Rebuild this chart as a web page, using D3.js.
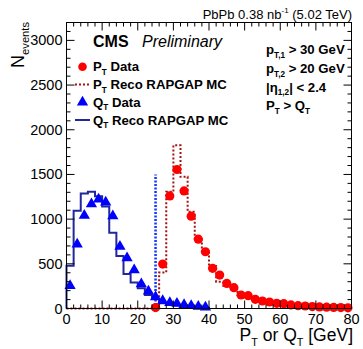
<!DOCTYPE html>
<html>
<head>
<meta charset="utf-8">
<script src="https://cdn.jsdelivr.net/npm/d3@7"></script>
<style>
  body { margin: 0; background: #fff; }
  svg { display: block; font-family: "Liberation Sans", Arial, sans-serif; }
</style>
</head>
<body>
<svg id="chart" width="363" height="349"></svg>
<script>
// P_T data (red points), bin centres in GeV
var ptDataX = [25, 27, 29, 31, 33, 35, 37, 39, 41, 43, 45, 47, 49, 51, 53, 55, 57, 59, 61, 63, 65, 67, 69, 71, 73, 75, 77, 79];
var ptDataY = [10, 497, 1260, 1555, 1316, 1033, 776, 635, 449, 374, 281, 233, 151, 143, 103, 84, 73, 58, 54, 40, 32, 28, 22, 18, 15, 12, 10, 8];

// Q_T data (blue triangles)
var qtDataX = [1, 3, 5, 7, 9, 11, 13, 15, 17, 19, 21, 23, 25, 27, 29, 31, 33, 35, 37, 39];
var qtDataY = [255, 720, 1040, 1170, 1223, 1188, 1035, 694, 565, 430, 274, 192, 128, 86, 65, 55, 42, 30, 22, 15];

// MC histograms, bin edges (2 GeV wide)
var mcEdges = [0, 2, 4, 6, 8, 10, 12, 14, 16, 18, 20, 22, 24, 26, 28, 30, 32, 34, 36, 38,
               40, 42, 44, 46, 48, 50, 52, 54, 56, 58, 60, 62, 64, 66, 68, 70, 72, 74, 76, 78, 80];
var ptMc = [0, 0, 0, 0, 0, 0, 0, 0, 0, 0, 0, 0, 0, 404, 1305, 1827, 1473, 1082, 790, 640,
            475, 300, 255, 210, 150, 125, 100, 85, 70, 58, 50, 40, 32, 27, 22, 18, 15, 12, 10, 8];
var qtMc = [478, 1093, 1287, 1305, 1255, 1140, 847, 587, 385, 290, 226, 150, 105, 60, 45, 35, 25, 18, 12, 8];

var cutX = 25, cutY = 1500;

var xTicks = [0, 10, 20, 30, 40, 50, 60, 70, 80];
var yTicks = [0, 500, 1000, 1500, 2000, 2500, 3000];

var svg = d3.select("#chart");
var fL = 66.5, fR = 351.5, fT = 22.5, fB = 308.5;
var x = d3.scaleLinear().domain([0, 80]).range([fL, fR]);
var y = d3.scaleLinear().domain([0, 3200]).range([fB, fT]);

// step histogram outline
function stepPath(vals) {
  var d = "M" + x(0) + "," + y(0);
  vals.forEach(function (v, i) {
    d += "L" + x(mcEdges[i]) + "," + y(v) + "L" + x(mcEdges[i + 1]) + "," + y(v);
  });
  d += "L" + x(mcEdges[vals.length]) + "," + y(0);
  return d;
}

svg.append("path").attr("d", stepPath(ptMc))
  .attr("fill", "none").attr("stroke", "#a31515").attr("stroke-width", 2)
  .attr("stroke-dasharray", "2,2");

svg.append("path").attr("d", stepPath(qtMc))
  .attr("fill", "none").attr("stroke", "#20289a").attr("stroke-width", 2);

svg.append("line")
  .attr("x1", x(cutX)).attr("x2", x(cutX)).attr("y1", y(0)).attr("y2", y(cutY))
  .attr("stroke", "#1a3cff").attr("stroke-width", 2.6).attr("stroke-dasharray", "2,1.5");

var tri = d3.symbol().type(d3.symbolTriangle).size(55);
svg.append("g").selectAll("path").data(qtDataX).enter().append("path")
  .attr("d", tri)
  .attr("transform", function (d, i) { return "translate(" + x(d) + "," + y(qtDataY[i]) + ")"; })
  .attr("fill", "#0000ff");

svg.append("g").selectAll("circle").data(ptDataX).enter().append("circle")
  .attr("cx", function (d) { return x(d); })
  .attr("cy", function (d, i) { return y(ptDataY[i]); })
  .attr("r", 4.6).attr("fill", "#ff0000");

// frame and ticks (ROOT style, ticks inside on all sides)
var ax = svg.append("g").attr("stroke", "#000").attr("stroke-width", 1);
ax.append("rect").attr("x", fL).attr("y", fT).attr("width", fR - fL).attr("height", fB - fT)
  .attr("fill", "none");
var xMinor = d3.range(0, 81, 2);
var yMinor = d3.range(0, 3201, 100);
xMinor.forEach(function (v) {
  var len = v % 10 === 0 ? 8 : 4;
  ax.append("line").attr("x1", x(v)).attr("x2", x(v)).attr("y1", fB).attr("y2", fB - len);
  ax.append("line").attr("x1", x(v)).attr("x2", x(v)).attr("y1", fT).attr("y2", fT + len);
});
yMinor.forEach(function (v) {
  var len = v % 500 === 0 ? 8 : 4;
  ax.append("line").attr("x1", fL).attr("x2", fL + len).attr("y1", y(v)).attr("y2", y(v));
  ax.append("line").attr("x1", fR).attr("x2", fR - len).attr("y1", y(v)).attr("y2", y(v));
});

svg.append("g").selectAll("text").data(xTicks).enter().append("text")
  .attr("x", function (d) { return x(d); }).attr("y", 323.5)
  .attr("text-anchor", "middle").attr("font-size", 14.5).text(function (d) { return d; });
svg.append("g").selectAll("text").data(yTicks).enter().append("text")
  .attr("x", 62.5).attr("y", function (d) { return y(d) + 5; })
  .attr("text-anchor", "end").attr("font-size", 14.5).text(function (d) { return d; });

// text with sub/superscripts: parts = [[text, mode]]
function rich(g, parts, size) {
  var t = g.append("text").attr("font-size", size);
  parts.forEach(function (p) {
    var s = t.append("tspan").text(p[0]);
    if (p[1] === "sub") s.attr("font-size", size * 0.62).attr("dy", size * 0.28);
    else if (p[1] === "sup") s.attr("font-size", size * 0.62).attr("dy", -size * 0.42);
    else if (p[1] === "back") s.attr("dy", -size * 0.28);
    else if (p[1] === "down") s.attr("dy", size * 0.42);
  });
  return t;
}

rich(svg, [["PbPb 0.38 nb"], ["-1", "sup"], [" (5.02 TeV)", "down"]], 13)
  .attr("x", 352).attr("y", 18.5).attr("text-anchor", "end");

rich(svg, [["P"], ["T", "sub"], [" or Q", "back"], ["T", "sub"], [" [GeV]", "back"]], 17.5)
  .attr("x", 353).attr("y", 341).attr("text-anchor", "end");

rich(svg, [["N"], ["events", "sub"]], 18)
  .attr("text-anchor", "end")
  .attr("transform", "translate(24,22) rotate(-90)");

svg.append("text").attr("x", 93).attr("y", 47).attr("font-size", 16).attr("font-weight", "bold").text("CMS");
svg.append("text").attr("x", 142).attr("y", 47).attr("font-size", 16).attr("font-style", "italic").text("Preliminary");

// legend
var lg = svg.append("g").attr("font-weight", "bold");
var rows = [66.7, 84.5, 102.2, 120];
lg.append("circle").attr("cx", 82.5).attr("cy", rows[0]).attr("r", 4.3).attr("fill", "#ff0000");
lg.append("line").attr("x1", 75).attr("x2", 90).attr("y1", rows[1]).attr("y2", rows[1])
  .attr("stroke", "#a31515").attr("stroke-width", 2).attr("stroke-dasharray", "2,2");
lg.append("path").attr("d", tri).attr("transform", "translate(82.5," + rows[2] + ")").attr("fill", "#0000ff");
lg.append("line").attr("x1", 75).attr("x2", 90).attr("y1", rows[3]).attr("y2", rows[3])
  .attr("stroke", "#20289a").attr("stroke-width", 2);
var labels = [[["P"], ["T", "sub"], [" Data", "back"]],
              [["P"], ["T", "sub"], [" Reco RAPGAP MC", "back"]],
              [["Q"], ["T", "sub"], [" Data", "back"]],
              [["Q"], ["T", "sub"], [" Reco RAPGAP MC", "back"]]];
labels.forEach(function (l, i) {
  rich(lg, l, 13.2).attr("x", 93).attr("y", rows[i] + 4.5);
});

// selection text
var sel = svg.append("g").attr("font-weight", "bold");
rich(sel, [["p"], ["T,1", "sub"], [" > 30 GeV", "back"]], 13.2).attr("x", 266).attr("y", 54);
rich(sel, [["p"], ["T,2", "sub"], [" > 20 GeV", "back"]], 13.2).attr("x", 266).attr("y", 73);
rich(sel, [["|η"], ["1,2", "sub"], ["| < 2.4", "back"]], 13.2).attr("x", 266).attr("y", 91.5);
rich(sel, [["P"], ["T", "sub"], [" > Q", "back"], ["T", "sub"]], 13.2).attr("x", 266).attr("y", 110);
</script>
</body>
</html>
